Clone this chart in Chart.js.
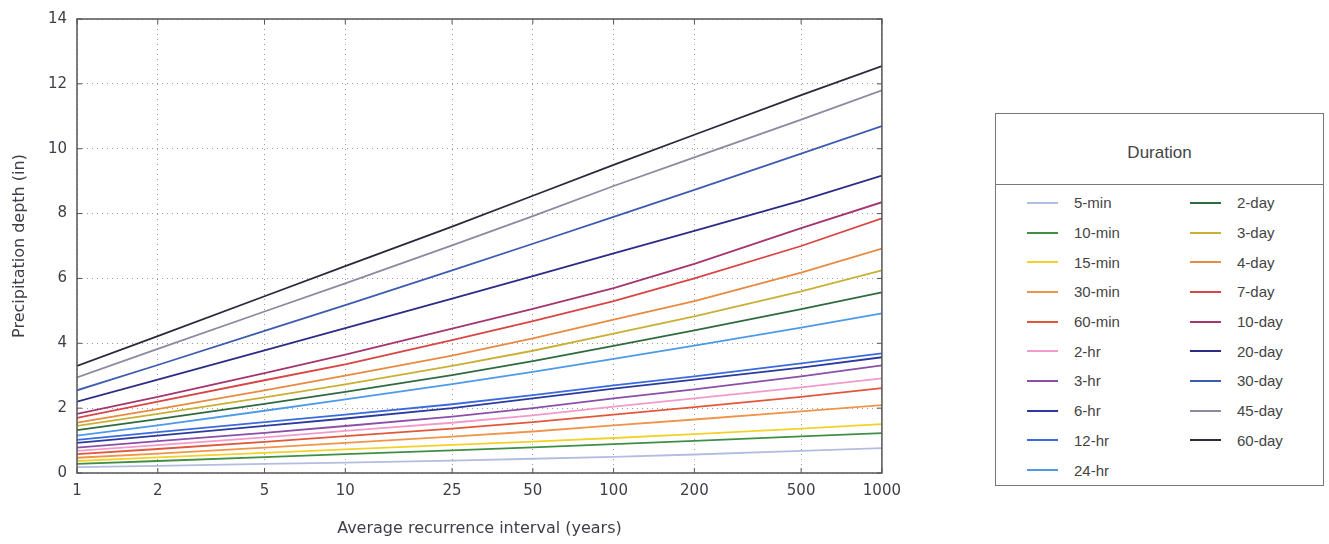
<!DOCTYPE html>
<html>
<head>
<meta charset="utf-8">
<script src="https://cdn.jsdelivr.net/npm/chart.js@4"></script>
<style>
  body { margin: 0; background: #fff; width: 1329px; height: 544px; position: relative; overflow: hidden; }
  #wrap { position: absolute; left: 0; top: 0; width: 910px; height: 544px; }
  #legend {
    position: absolute; left: 995px; top: 113px; width: 329px; height: 373px;
    border: 1px solid #777; box-sizing: border-box;
    font-family: "Liberation Sans", Arial, sans-serif; color: #444;
  }
  #legend .head { height: 70px; border-bottom: 1px solid #777; text-align: center; line-height: 78px; font-size: 17px; }
  #legend .body {
    display: grid; grid-template-columns: 163px 163px; grid-template-rows: repeat(10, 29.7px);
    grid-auto-flow: column; padding-top: 3px;
  }
  #legend .item { display: flex; align-items: center; font-size: 15px; }
  #legend .sw { width: 31px; height: 2px; margin-left: 31px; margin-right: 16px; }
</style>
</head>
<body>
<div id="wrap"><canvas id="chart" width="910" height="544"></canvas></div>
<div id="legend"><div class="head">Duration</div><div class="body" id="legendBody"></div></div>
<script>
// Average recurrence intervals (years)
const ari = [1, 2, 5, 10, 25, 50, 100, 200, 500, 1000];

const durations = ["5-min", "10-min", "15-min", "30-min", "60-min", "2-hr", "3-hr", "6-hr", "12-hr", "24-hr",
  "2-day", "3-day", "4-day", "7-day", "10-day", "20-day", "30-day", "45-day", "60-day"];

// Depths (in)
const min5 = [0.18, 0.22, 0.28, 0.32, 0.38, 0.44, 0.5, 0.57, 0.68, 0.77];
const min10 = [0.28, 0.37, 0.49, 0.58, 0.7, 0.79, 0.89, 0.99, 1.13, 1.23];
const min15 = [0.37, 0.48, 0.62, 0.73, 0.87, 0.97, 1.08, 1.2, 1.37, 1.51];
const min30 = [0.47, 0.6, 0.78, 0.93, 1.12, 1.28, 1.47, 1.65, 1.9, 2.09];
const min60 = [0.58, 0.74, 0.96, 1.14, 1.37, 1.57, 1.8, 2.03, 2.35, 2.62];
const hr2 = [0.68, 0.86, 1.1, 1.3, 1.55, 1.78, 2.05, 2.3, 2.64, 2.92];
const hr3 = [0.78, 0.98, 1.24, 1.45, 1.74, 2.0, 2.3, 2.58, 2.98, 3.32];
const hr6 = [0.93, 1.15, 1.45, 1.68, 2.0, 2.3, 2.6, 2.88, 3.25, 3.57];
const hr12 = [1.02, 1.26, 1.57, 1.8, 2.12, 2.4, 2.7, 2.98, 3.38, 3.69];
const hr24 = [1.15, 1.47, 1.92, 2.27, 2.74, 3.12, 3.52, 3.93, 4.48, 4.92];
const day2 = [1.32, 1.66, 2.13, 2.5, 3.02, 3.45, 3.92, 4.4, 5.05, 5.57];
const day3 = [1.45, 1.82, 2.33, 2.73, 3.3, 3.77, 4.3, 4.83, 5.6, 6.25];
const day4 = [1.55, 1.97, 2.55, 3.0, 3.62, 4.15, 4.73, 5.3, 6.18, 6.92];
const day7 = [1.7, 2.2, 2.86, 3.35, 4.1, 4.68, 5.3, 6.0, 7.0, 7.85];
const day10 = [1.82, 2.35, 3.08, 3.65, 4.45, 5.06, 5.7, 6.45, 7.55, 8.35];
const day20 = [2.2, 2.88, 3.78, 4.47, 5.38, 6.07, 6.77, 7.47, 8.4, 9.17];
const day30 = [2.55, 3.33, 4.38, 5.18, 6.25, 7.07, 7.9, 8.73, 9.85, 10.7];
const day45 = [2.95, 3.83, 4.98, 5.85, 7.02, 7.92, 8.85, 9.73, 10.9, 11.8];
const day60 = [3.3, 4.22, 5.45, 6.38, 7.6, 8.55, 9.5, 10.43, 11.65, 12.55];

const series = [min5, min10, min15, min30, min60, hr2, hr3, hr6, hr12, hr24,
  day2, day3, day4, day7, day10, day20, day30, day45, day60];

const colors = ["#b4bce0", "#3f8f45", "#f2d22a", "#f0944a", "#e0583c", "#f29acb", "#8c4fa8", "#2b3a9c", "#3b6ae0", "#4d9be8",
  "#2f6b40", "#c9b034", "#e88a40", "#d94545", "#a3356f", "#2c2c86", "#3d5cb0", "#8a8aa0", "#2a2a3c"];

const yTicks = [0, 2, 4, 6, 8, 10, 12, 14];

const datasets = series.map((vals, i) => ({
  label: durations[i],
  data: ari.map((a, j) => ({ x: a, y: vals[j] })),
  borderColor: colors[i],
  backgroundColor: colors[i],
  borderWidth: 1.8,
  pointRadius: 0,
  tension: 0,
}));

// frame + inward ticks, matplotlib style
const framePlugin = {
  id: "frame",
  afterDatasetsDraw(chart) {
    const { ctx, chartArea: { left, top, right, bottom }, scales: { x, y } } = chart;
    ctx.save();
    ctx.strokeStyle = "#555";
    ctx.lineWidth = 1.5;
    ctx.strokeRect(left, top, right - left, bottom - top);
    ctx.lineWidth = 1;
    ctx.beginPath();
    y.ticks.forEach((t) => {
      const py = y.getPixelForValue(t.value);
      ctx.moveTo(left, py); ctx.lineTo(left + 5, py);
      ctx.moveTo(right, py); ctx.lineTo(right - 5, py);
    });
    x.ticks.forEach((t) => {
      const px = x.getPixelForValue(t.value);
      ctx.moveTo(px, bottom); ctx.lineTo(px, bottom - 5);
      ctx.moveTo(px, top); ctx.lineTo(px, top + 5);
    });
    ctx.stroke();
    ctx.restore();
  },
};

const tickFont = { family: "DejaVu Sans", size: 15 };
const gridOpts = { color: "#9a9a9a", lineWidth: 1, drawTicks: false };

new Chart(document.getElementById("chart"), {
  type: "line",
  data: { datasets },
  plugins: [framePlugin],
  options: {
    responsive: false,
    animation: false,
    layout: { padding: { top: 17, right: 27, left: 0, bottom: 0 } },
    plugins: { legend: { display: false }, tooltip: { enabled: false } },
    scales: {
      x: {
        type: "logarithmic",
        min: 1,
        max: 1000,
        afterBuildTicks: (scale) => { scale.ticks = ari.map((v) => ({ value: v })); },
        afterFit: (scale) => { scale.height = 71; },
        ticks: { callback: (v) => String(v), autoSkip: false, maxRotation: 0, padding: 9, color: "#3e3e48", font: tickFont },
        grid: gridOpts,
        border: { display: false, dash: [1, 4] },
        title: { display: true, text: "Average recurrence interval (years)", color: "#3e3e48",
          font: { family: "DejaVu Sans", size: 16 }, padding: { top: 0, bottom: 6 } },
      },
      y: {
        min: 0,
        max: 14,
        afterBuildTicks: (scale) => { scale.ticks = yTicks.map((v) => ({ value: v })); },
        afterFit: (scale) => { scale.width = 77; },
        ticks: { padding: 10, color: "#3e3e48", font: tickFont },
        grid: gridOpts,
        border: { display: false, dash: [1, 4] },
        title: { display: true, text: "Precipitation depth (in)", color: "#3e3e48",
          font: { family: "DejaVu Sans", size: 16 }, padding: { top: 10, bottom: 0 } },
      },
    },
  },
});

// HTML legend built from the datasets
const body = document.getElementById("legendBody");
datasets.forEach((ds) => {
  const item = document.createElement("div");
  item.className = "item";
  item.innerHTML = `<span class="sw" style="background:${ds.borderColor}"></span><span>${ds.label}</span>`;
  body.appendChild(item);
});
</script>
</body>
</html>
